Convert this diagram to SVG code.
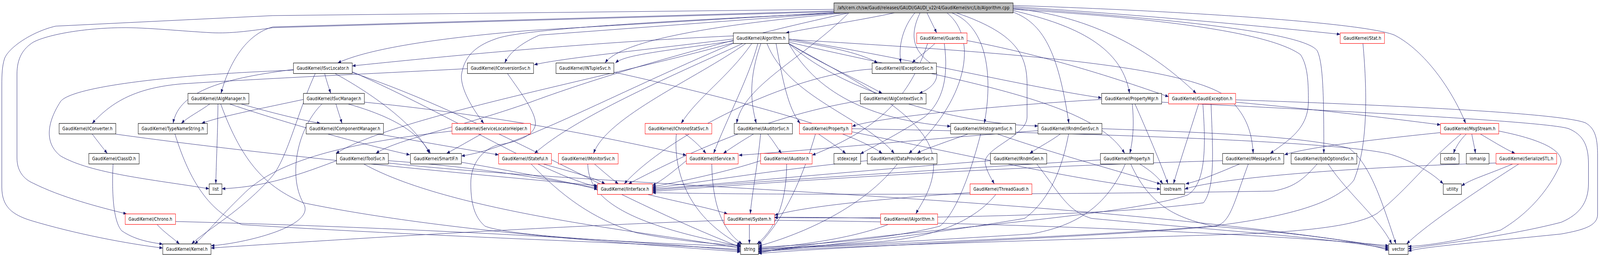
<svg xmlns="http://www.w3.org/2000/svg" width="5278" height="659" viewBox="0 0 5278 659" preserveAspectRatio="none" style="width:100%;height:100%">
<style>
.n rect{fill:#fff;stroke:#000;stroke-width:1.2}
.r rect{stroke:#f00}
.src rect{fill:#bfbfbf}
text{font-family:"DejaVu Sans","Liberation Sans",Arial,sans-serif;font-size:12.7px;text-anchor:middle;fill:#000}
#edges path{fill:none;stroke:#191970;stroke-width:1;marker-end:url(#a)}
</style>
<defs>
<marker id="a" markerWidth="12" markerHeight="8" refX="11" refY="4" orient="auto" markerUnits="userSpaceOnUse"><path d="M0,0 L11,4 L0,8 z" fill="#191970"/></marker>
</defs>
<rect width="5278" height="659" fill="#fff"/>
<g id="edges">
<path d="M2950,33 C2850,50 2700,68 2592,84.5"/>
<path d="M3058,33 C3068,50 3080,68 3090,84.5"/>
<path d="M3018,33 C2978,70 2962,120 2972,161.5"/>
<path d="M3035,33 C3000,90 3010,130 3075,165 C3110,195 3080,225 3032,239.5"/>
<path d="M3124,33 C3230,100 3190,260 2998,393.5"/>
<path d="M3140,33 C3260,70 3275,200 3247,316.5"/>
<path d="M3155,33 C3370,90 3390,150 3388,230 L3388,300 C3388,350 3240,380 3250,420 C3258,445 3272,460 3280,471.5"/>
<path d="M3342,27 C3520,60 3700,110 3726,239.5"/>
<path d="M3342,22 C3600,40 3800,130 3946,239.5"/>
<path d="M3342,31 C3440,60 3490,130 3526,316.5"/>
<path d="M3342,20 C3800,45 4300,80 4345,130 C4365,160 4367,250 4367,393.5"/>
<path d="M3342,17 C3800,40 4200,70 4421,88"/>
<path d="M3342,14 C3900,28 4500,58 4600,90 C4700,130 4790,230 4835,316.5"/>
<path d="M3342,24 C3900,50 4200,90 4290,140 C4316,170 4316,220 4316,260 C4316,330 4250,360 4190,393.5"/>
<path d="M2751,24 L900,40 L184,67 C110,80 30,120 15,150 C7,170 6,190 6,220 L6,480 C6,530 40,550 100,565 C250,600 420,625 537,636"/>
<path d="M2751,30 L900,71 C820,80 760,86 700,84 C600,80 480,70 400,71 C280,72 160,88 110,108 C75,125 56,150 56,190 L56,405 C56,440 80,460 110,470 C200,505 320,530 418,548.5"/>
<path d="M2751,32 L1750,78 C1400,100 1200,130 1114,161.5"/>
<path d="M2751,28 L900,69 C820,86 760,150 729,239.5"/>
<path d="M2760,33 L1780,90 C1720,110 1680,135 1665,161.5"/>
<path d="M2790,33 C2400,60 2050,100 1996,161.5"/>
<path d="M2800,33 C2400,100 2000,190 1750,262 C1500,330 1300,360 1240,393.5"/>
<path d="M2770,33 C2000,60 1700,80 1634,100 C1560,120 1530,150 1522,193 C1520,230 1560,280 1596,316.5"/>
<path d="M2800,33 C2650,150 2450,220 2430,316.5"/>
<path d="M2602,108 C3100,200 3600,250 3710,393.5"/>
<path d="M2602,111.5 C2800,200 3080,300 3080,420 C3080,480 3040,520 3021,548.5"/>
<path d="M2500,111.5 C2470,200 2400,300 2354,393.5"/>
<path d="M2602,100 C3000,150 3400,225 3634,251"/>
<path d="M2419,92 C1900,110 1400,150 1162,169"/>
<path d="M2602,101 C3200,130 3900,160 4050,250 C4120,300 4130,350 4134,393.5"/>
<path d="M2450,111.5 C2200,200 1900,300 1763,393.5"/>
<path d="M2560,111.5 C2580,200 2600,280 2640,316.5"/>
<path d="M2460,111.5 C2300,200 2000,300 1958,393.5"/>
<path d="M2510,111.5 C2470,200 2475,260 2495,316.5"/>
<path d="M2480,111.5 C2400,200 2300,250 2247,316.5"/>
<path d="M2419,100 C2100,130 1850,150 1762,166"/>
<path d="M2530,111.5 C2600,250 2850,300 2950,393.5"/>
<path d="M2602,104 C2750,120 2850,140 2895,161.5"/>
<path d="M2602,111.5 C2700,250 2900,310 3136,324"/>
<path d="M2419,105 C2200,130 2060,140 2030,161.5"/>
<path d="M2602,111.5 C2800,250 3200,320 3424,323"/>
<path d="M2419,110 C2000,200 1300,300 1108,393.5"/>
<path d="M2602,111.5 C2700,160 2820,200 2910,239.5"/>
<path d="M2419,111 C2000,250 1700,380 1522,400"/>
<path d="M1071,188.5 C1078,210 1085,225 1091,239.5"/>
<path d="M1105,188.5 C1250,250 1380,330 1416,393.5"/>
<path d="M1040,188.5 C985,280 950,400 900,450 C800,540 680,590 632,625.5"/>
<path d="M1162,184 C1500,300 1800,450 1971,479"/>
<path d="M968,178 C750,200 590,230 571,316.5"/>
<path d="M1162,186 C1600,300 2000,500 2443,634"/>
<path d="M968,180 C600,190 240,220 200,260 C150,320 150,370 200,400 C300,445 500,460 690,484"/>
<path d="M1108,266.5 C1115,285 1122,300 1128,316.5"/>
<path d="M1148,266.5 C1300,300 1380,340 1420,393.5"/>
<path d="M1062,266.5 C980,330 950,450 1000,520 C1050,580 800,625 696,630"/>
<path d="M1001,255 C850,280 720,300 665,316.5"/>
<path d="M1202,262 C1700,300 2100,370 2264,398"/>
<path d="M692,266.5 C660,285 620,300 598,316.5"/>
<path d="M719,266.5 C718,350 713,420 712,471.5"/>
<path d="M795,266.5 C900,290 980,305 1057,316.5"/>
<path d="M757,266.5 C1000,330 1250,380 1352,397"/>
<path d="M728,266.5 C800,420 880,480 1000,520 C1500,600 2200,630 2443,646"/>
<path d="M1246,343.5 C1400,365 1550,385 1645,397"/>
<path d="M1792,420.5 C1880,440 1960,455 1996,471.5"/>
<path d="M1752,420.5 C1850,500 1950,560 2100,597 C2250,620 2380,627 2443,629"/>
<path d="M2136,498.5 C2250,520 2350,535 2400,548.5"/>
<path d="M2472,575.5 L2472,625.5"/>
<path d="M2389,565 C1800,580 1000,620 696,636"/>
<path d="M2555,565 C3300,570 4200,600 4581,630"/>
<path d="M1522,416 C1700,440 1900,470 1971,486"/>
<path d="M1281,412 C1600,430 1800,460 1971,482"/>
<path d="M1200,420.5 C1500,550 2200,600 2443,637"/>
<path d="M1281,418 C2000,480 3500,500 4581,634"/>
<path d="M1110,412 C950,460 850,480 732,484"/>
<path d="M373,420.5 C368,500 375,570 402,592 C440,612 480,620 537,626"/>
<path d="M304,343.5 C320,360 340,380 354,393.5"/>
<path d="M382,344 C900,400 1600,450 1971,476"/>
<path d="M577,343.5 C620,450 680,540 798,576 C1500,610 2200,625 2443,640"/>
<path d="M518,575.5 C540,595 570,610 592,625.5"/>
<path d="M579,568 C1200,580 2000,610 2443,643"/>
<path d="M1542,176 C1200,190 900,200 600,215 C450,225 370,260 304,316.5"/>
<path d="M1674,188.5 C1720,240 1770,290 1766,320 C1760,350 1700,365 1640,372 C1590,385 1553,420 1553,470 C1553,530 1570,560 1600,580 C1700,610 2200,625 2443,632"/>
<path d="M2025,185 C2400,250 2800,330 2910,393.5"/>
<path d="M2877,177 C2600,190 2200,350 2059,471.5"/>
<path d="M2838,258 C2500,300 2200,420 2073,471.5"/>
<path d="M3084,111.5 C3060,130 3025,148 3009,161.5"/>
<path d="M3190,104 C3500,150 3750,220 3855,248"/>
<path d="M3115,111.5 C3130,200 3110,260 3050,300 C2950,350 2870,380 2838,395"/>
<path d="M3060,111.5 C3000,250 2900,330 2679,398"/>
<path d="M3735,266.5 C3742,320 3737,360 3727,393.5"/>
<path d="M3744,266.5 C3780,330 3830,420 3853,471.5"/>
<path d="M3634,255 C3300,270 2900,300 2811,324"/>
<path d="M3832,262 C4300,280 5100,310 5175,330 C5220,345 5240,370 5240,420 L5240,470 C5240,520 5210,550 5150,570 C4950,610 4700,630 4645,638"/>
<path d="M3954,266.5 C3920,350 3890,420 3871,471.5"/>
<path d="M3968,266.5 C3975,350 3985,470 3917,500 C3700,560 2800,600 2502,649"/>
<path d="M3995,266.5 C4000,380 4010,480 3970,520 C3600,560 2800,560 2555,558"/>
<path d="M4076,256 C4600,270 5150,290 5230,315 C5265,330 5270,360 5270,400 L5270,550 C5270,580 5220,590 5150,600 C4900,620 4700,632 4645,644"/>
<path d="M4076,262 C4400,285 4600,305 4752,320"/>
<path d="M2700,343.5 C2730,360 2770,380 2790,393.5"/>
<path d="M2690,343.5 C2650,450 2590,560 2502,628"/>
<path d="M2810,338 C3200,400 3600,470 3828,485"/>
<path d="M2810,330 C3500,340 4400,360 4584,395 C4650,410 4720,440 4761,471.5"/>
<path d="M3193,343.5 C3100,370 3040,385 3026,393.5"/>
<path d="M3235,343.5 C3200,450 3150,550 3100,580 C2900,620 2600,630 2502,634"/>
<path d="M3290,343.5 C3500,400 3700,440 3828,472"/>
<path d="M2861,412 C2500,440 2300,470 2152,482"/>
<path d="M2960,420.5 C2850,530 2650,600 2502,631"/>
<path d="M3498,343.5 C3460,365 3420,380 3397,393.5"/>
<path d="M3525,343.5 C3500,450 3450,520 3380,560 C3000,610 2700,630 2502,646"/>
<path d="M3635,330 C4000,340 4300,350 4450,380 C4520,420 4560,520 4605,625.5"/>
<path d="M3424,335 C3000,360 2600,390 2437,398"/>
<path d="M3267,412 C2800,440 2400,470 2152,485"/>
<path d="M3420,420.5 C3500,500 3520,540 3600,560 C4000,590 4400,610 4581,638"/>
<path d="M3630,410 C3000,440 2400,470 2152,488"/>
<path d="M3760,420.5 C3800,440 3820,455 3836,471.5"/>
<path d="M3712,420.5 C3650,530 3550,580 3400,600 C3000,620 2700,630 2502,643"/>
<path d="M3730,420.5 C3800,540 3900,560 4000,580 C4300,600 4500,620 4581,642"/>
<path d="M4033,412 C3200,430 2500,470 2152,491"/>
<path d="M4089,420.5 C4000,450 3950,465 3911,471.5"/>
<path d="M4118,420.5 C4070,520 4060,570 4010,580 C3600,610 2800,630 2502,650"/>
<path d="M4345,420.5 C4300,460 4270,480 4200,490 C3400,500 2500,500 2152,494"/>
<path d="M4381,420.5 C4450,500 4550,560 4591,625.5"/>
<path d="M4752,340 C4500,360 4300,380 4237,397"/>
<path d="M4837,343.5 C4815,360 4800,380 4795,393.5"/>
<path d="M4855,343.5 C4860,365 4865,380 4867,393.5"/>
<path d="M4883,343.5 C4920,360 4960,380 4998,393.5"/>
<path d="M4820,343.5 C4700,420 4650,480 4545,546 C4480,580 4300,593 4100,600 C3500,615 2800,630 2502,644.5"/>
<path d="M4944,336 C5100,360 5160,390 5148,420 C5120,470 5060,540 4950,590 C4800,620 4700,630 4645,632"/>
<path d="M4990,420.5 C4900,450 4850,460 4821,477"/>
<path d="M5010,420.5 C4850,500 4700,580 4640,625.5"/>
<path d="M4935,418 C4400,430 4000,460 3908,485"/>
<path d="M2260,343.5 C2290,360 2315,380 2329,393.5"/>
<path d="M2231,343.5 C2220,450 2280,560 2443,628"/>
<path d="M2486,343.5 C2450,360 2410,380 2386,393.5"/>
<path d="M2509,343.5 C2500,420 2480,500 2475,548.5"/>
<path d="M2532,343.5 C2550,360 2565,380 2578,393.5"/>
<path d="M2264,412 C2220,440 2190,460 2152,476"/>
<path d="M2348,420.5 C2350,520 2380,590 2448,625.5"/>
<path d="M2509,412 C2400,440 2250,465 2152,479"/>
<path d="M2595,420.5 C2595,500 2570,580 2497,625.5"/>
<path d="M1961,420.5 C1990,440 2020,460 2040,471.5"/>
<path d="M1939,420.5 C1940,520 2100,580 2443,631"/>
<path d="M2905,560 C2800,558 2650,557 2555,557"/>
<path d="M2930,575.5 C2800,615 2600,632 2502,637"/>
<path d="M3285,498.5 C3200,580 3050,610 2900,620 C2700,630 2550,636 2502,640"/>
<path d="M3200,494 C2900,510 2650,530 2555,552"/>
<path d="M4496,111.5 C4512,250 4510,380 4466,462 C4400,530 4200,560 4000,580 C3500,610 2800,630 2502,638.5"/>
<path d="M1588,343.5 C1550,360 1510,378 1473,393.5"/>
<path d="M1491,336 C1100,370 900,420 800,500 C720,560 680,600 642,625.5"/>
</g>
<g id="n-S" class="n src"><rect x="2751" y="7.5" width="591" height="25.5"/><text x="3046.5" y="24.5" textLength="567">/afs/cern.ch/sw/Gaudi/releases/GAUDI/GAUDI_v22r4/GaudiKernel/src/Lib/Algorithm.cpp</text></g>
<g id="n-Algorithm" class="n"><rect x="2419" y="84.5" width="183" height="27"/><text x="2510.5" y="102.5" textLength="161">GaudiKernel/Algorithm.h</text></g>
<g id="n-Guards" class="n r"><rect x="3024" y="84.5" width="166" height="27"/><text x="3107" y="102.5" textLength="144">GaudiKernel/Guards.h</text></g>
<g id="n-Stat" class="n r"><rect x="4421" y="84.5" width="146" height="27"/><text x="4494" y="102.5" textLength="124">GaudiKernel/Stat.h</text></g>
<g id="n-ISvcLocator" class="n"><rect x="968" y="161.5" width="194" height="27"/><text x="1065" y="179.5" textLength="172">GaudiKernel/ISvcLocator.h</text></g>
<g id="n-IConversionSvc" class="n"><rect x="1542" y="161.5" width="218" height="27"/><text x="1651" y="179.5" textLength="196">GaudiKernel/IConversionSvc.h</text></g>
<g id="n-INTupleSvc" class="n"><rect x="1834" y="161.5" width="191" height="27"/><text x="1929.5" y="179.5" textLength="169">GaudiKernel/INTupleSvc.h</text></g>
<g id="n-IExceptionSvc" class="n"><rect x="2877" y="161.5" width="212" height="27"/><text x="2983" y="179.5" textLength="190">GaudiKernel/IExceptionSvc.h</text></g>
<g id="n-IAlgManager" class="n"><rect x="620" y="239.5" width="201" height="27"/><text x="720.5" y="257.5" textLength="179">GaudiKernel/IAlgManager.h</text></g>
<g id="n-ISvcManager" class="n"><rect x="1001" y="239.5" width="201" height="27"/><text x="1101.5" y="257.5" textLength="179">GaudiKernel/ISvcManager.h</text></g>
<g id="n-IAlgContextSvc" class="n"><rect x="2838" y="239.5" width="217" height="27"/><text x="2946.5" y="257.5" textLength="195">GaudiKernel/IAlgContextSvc.h</text></g>
<g id="n-PropertyMgr" class="n"><rect x="3634" y="239.5" width="198" height="27"/><text x="3733" y="257.5" textLength="176">GaudiKernel/PropertyMgr.h</text></g>
<g id="n-GaudiException" class="n r"><rect x="3855" y="239.5" width="221" height="27"/><text x="3965.5" y="257.5" textLength="199">GaudiKernel/GaudiException.h</text></g>
<g id="n-IConverter" class="n"><rect x="195" y="316.5" width="187" height="27"/><text x="288.5" y="334.5" textLength="165">GaudiKernel/IConverter.h</text></g>
<g id="n-TypeNameString" class="n"><rect x="456" y="316.5" width="228" height="27"/><text x="570" y="334.5" textLength="206">GaudiKernel/TypeNameString.h</text></g>
<g id="n-IComponentManager" class="n"><rect x="1010" y="316.5" width="255" height="27"/><text x="1137.5" y="334.5" textLength="233">GaudiKernel/IComponentManager.h</text></g>
<g id="n-ServiceLocatorHelper" class="n r"><rect x="1491" y="316.5" width="259" height="27"/><text x="1620.5" y="334.5" textLength="237">GaudiKernel/ServiceLocatorHelper.h</text></g>
<g id="n-IChronoStatSvc" class="n r"><rect x="2128" y="316.5" width="220" height="27"/><text x="2238" y="334.5" textLength="198">GaudiKernel/IChronoStatSvc.h</text></g>
<g id="n-IAuditorSvc" class="n"><rect x="2422" y="316.5" width="192" height="27"/><text x="2518" y="334.5" textLength="170">GaudiKernel/IAuditorSvc.h</text></g>
<g id="n-Property" class="n r"><rect x="2637" y="316.5" width="173" height="27"/><text x="2723.5" y="334.5" textLength="151">GaudiKernel/Property.h</text></g>
<g id="n-IHistogramSvc" class="n"><rect x="3136" y="316.5" width="214" height="27"/><text x="3243" y="334.5" textLength="192">GaudiKernel/IHistogramSvc.h</text></g>
<g id="n-IRndmGenSvc" class="n"><rect x="3424" y="316.5" width="211" height="27"/><text x="3529.5" y="334.5" textLength="189">GaudiKernel/IRndmGenSvc.h</text></g>
<g id="n-MsgStream" class="n r"><rect x="4752" y="316.5" width="192" height="27"/><text x="4848" y="334.5" textLength="170">GaudiKernel/MsgStream.h</text></g>
<g id="n-ClassID" class="n"><rect x="293" y="393.5" width="166" height="27"/><text x="376" y="411.5" textLength="144">GaudiKernel/ClassID.h</text></g>
<g id="n-IToolSvc" class="n"><rect x="1110" y="393.5" width="171" height="27"/><text x="1195.5" y="411.5" textLength="149">GaudiKernel/IToolSvc.h</text></g>
<g id="n-SmartIF" class="n"><rect x="1354" y="393.5" width="168" height="27"/><text x="1438" y="411.5" textLength="146">GaudiKernel/SmartIF.h</text></g>
<g id="n-IStateful" class="n r"><rect x="1645" y="393.5" width="174" height="27"/><text x="1732" y="411.5" textLength="152">GaudiKernel/IStateful.h</text></g>
<g id="n-IMonitorSvc" class="n r"><rect x="1842" y="393.5" width="197" height="27"/><text x="1940.5" y="411.5" textLength="175">GaudiKernel/IMonitorSvc.h</text></g>
<g id="n-IService" class="n r"><rect x="2264" y="393.5" width="171" height="27"/><text x="2349.5" y="411.5" textLength="149">GaudiKernel/IService.h</text></g>
<g id="n-IAuditor" class="n r"><rect x="2509" y="393.5" width="170" height="27"/><text x="2594" y="411.5" textLength="148">GaudiKernel/IAuditor.h</text></g>
<g id="n-stdexcept" class="n"><rect x="2751" y="393.5" width="88" height="27"/><text x="2795" y="411.5" textLength="66">stdexcept</text></g>
<g id="n-IDataProviderSvc" class="n"><rect x="2861" y="393.5" width="230" height="27"/><text x="2976" y="411.5" textLength="208">GaudiKernel/IDataProviderSvc.h</text></g>
<g id="n-IRndmGen" class="n"><rect x="3267" y="393.5" width="186" height="27"/><text x="3360" y="411.5" textLength="164">GaudiKernel/IRndmGen.h</text></g>
<g id="n-IProperty" class="n"><rect x="3630" y="393.5" width="175" height="27"/><text x="3717.5" y="411.5" textLength="153">GaudiKernel/IProperty.h</text></g>
<g id="n-IMessageSvc" class="n"><rect x="4033" y="393.5" width="202" height="27"/><text x="4134" y="411.5" textLength="180">GaudiKernel/IMessageSvc.h</text></g>
<g id="n-IJobOptionsSvc" class="n"><rect x="4259" y="393.5" width="217" height="27"/><text x="4367.5" y="411.5" textLength="195">GaudiKernel/IJobOptionsSvc.h</text></g>
<g id="n-cstdio" class="n"><rect x="4752" y="393.5" width="61" height="27"/><text x="4782.5" y="411.5" textLength="39">cstdio</text></g>
<g id="n-iomanip" class="n"><rect x="4837" y="393.5" width="75" height="27"/><text x="4874.5" y="411.5" textLength="53">iomanip</text></g>
<g id="n-SerializeSTL" class="n r"><rect x="4935" y="393.5" width="200" height="27"/><text x="5035" y="411.5" textLength="178">GaudiKernel/SerializeSTL.h</text></g>
<g id="n-list" class="n"><rect x="690" y="471.5" width="42" height="27"/><text x="711" y="489.5" textLength="20">list</text></g>
<g id="n-IInterface" class="n r"><rect x="1971" y="471.5" width="181" height="27"/><text x="2061.5" y="489.5" textLength="159">GaudiKernel/IInterface.h</text></g>
<g id="n-ThreadGaudi" class="n r"><rect x="3200" y="471.5" width="204" height="27"/><text x="3302" y="489.5" textLength="182">GaudiKernel/ThreadGaudi.h</text></g>
<g id="n-iostream" class="n"><rect x="3828" y="471.5" width="80" height="27"/><text x="3868" y="489.5" textLength="58">iostream</text></g>
<g id="n-utility" class="n"><rect x="4761" y="471.5" width="60" height="27"/><text x="4791" y="489.5" textLength="38">utility</text></g>
<g id="n-Chrono" class="n r"><rect x="413" y="548.5" width="166" height="27"/><text x="496" y="566.5" textLength="144">GaudiKernel/Chrono.h</text></g>
<g id="n-System" class="n r"><rect x="2389" y="548.5" width="166" height="27"/><text x="2472" y="566.5" textLength="144">GaudiKernel/System.h</text></g>
<g id="n-IAlgorithm" class="n r"><rect x="2905" y="548.5" width="188" height="27"/><text x="2999" y="566.5" textLength="166">GaudiKernel/IAlgorithm.h</text></g>
<g id="n-Kernel" class="n"><rect x="537" y="625.5" width="159" height="27"/><text x="616.5" y="643.5" textLength="137">GaudiKernel/Kernel.h</text></g>
<g id="n-string" class="n"><rect x="2443" y="625.5" width="59" height="27"/><text x="2472.5" y="643.5" textLength="37">string</text></g>
<g id="n-vector" class="n"><rect x="4581" y="625.5" width="64" height="27"/><text x="4613" y="643.5" textLength="42">vector</text></g>
</svg>
